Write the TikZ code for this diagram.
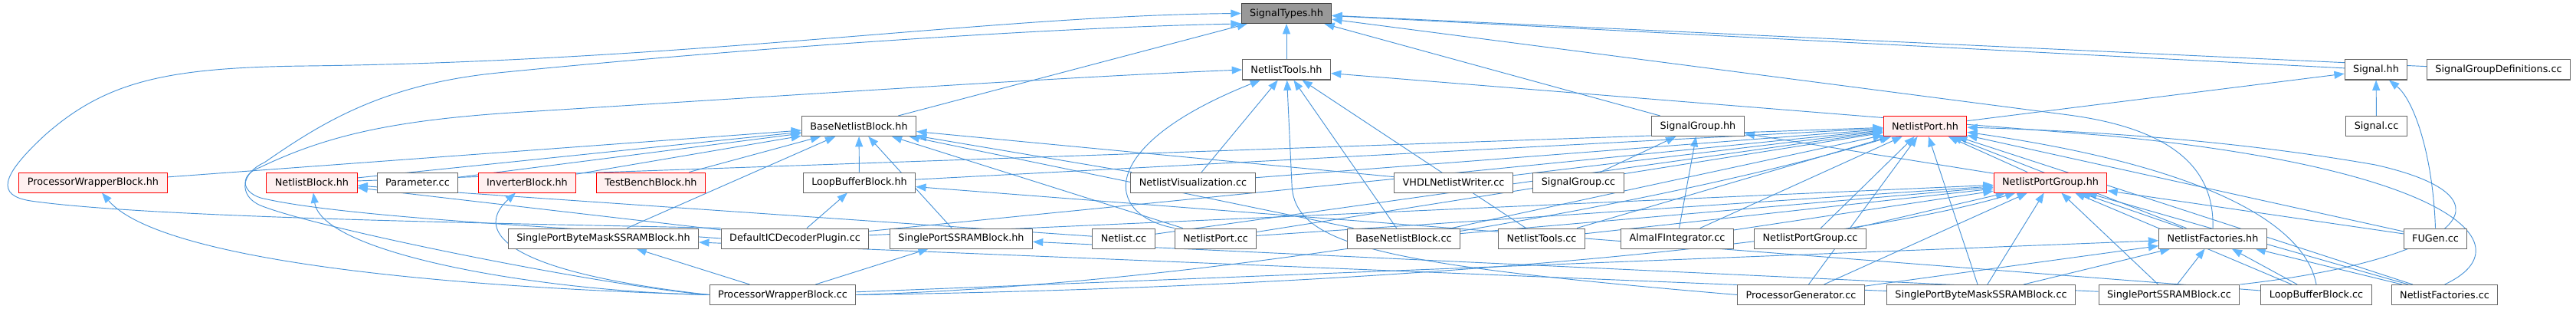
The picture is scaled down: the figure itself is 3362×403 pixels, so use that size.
\documentclass[tikz,border=0pt]{standalone}
\usepackage{fontspec}
\usepackage{xcolor}
\usepackage{tikz}
\usetikzlibrary{arrows.meta}
\newfontfamily\dejavu{DejaVu Sans}
\definecolor{depblue}{HTML}{4A94D8}
\definecolor{tipblue}{HTML}{63B8FF}
\definecolor{boxgray}{HTML}{666666}
\definecolor{rootgray}{HTML}{999999}
\definecolor{redfill}{HTML}{FFF0F0}
\pgfdeclarelayer{bg}
\pgfsetlayers{bg,main}
\begin{document}
\begin{tikzpicture}[x=0.75pt,y=0.75pt,
          box/.style={draw=boxgray,fill=white,line width=0.75pt,minimum height=19.5pt,inner xsep=8.2pt,inner ysep=0pt,font=\dejavu\fontsize{9.6}{11}\selectfont},
          trunc/.style={box,draw=red,fill=redfill},
          root/.style={box,draw=black!75,fill=rootgray},
          dep/.style={draw=depblue,line width=0.7pt,-{Triangle[length=10pt,width=7.5pt,color=tipblue]}}]
          \useasboundingbox (0,0) rectangle (3362,-403);
          \node[root](st) at (1679,-17.5){SignalTypes.hh};
          \node[box](nth) at (1679,-91){NetlistTools.hh};
          \node[box](sh) at (3101,-91){Signal.hh};
          \node[box](sgd) at (3261,-91){SignalGroupDefinitions.cc};
          \node[box](bnbh) at (1121,-164.5){BaseNetlistBlock.hh};
          \node[box](sgh) at (2216,-164.5){SignalGroup.hh};
          \node[trunc](nph) at (2512.5,-164.5){NetlistPort.hh};
          \node[box](scc) at (3101.5,-164.5){Signal.cc};
          \node[trunc](pwbh) at (121.5,-238){ProcessorWrapperBlock.hh};
          \node[trunc](nbh) at (407,-238){NetlistBlock.hh};
          \node[box](param) at (545,-238){Parameter.cc};
          \node[trunc](invbh) at (688,-238){InverterBlock.hh};
          \node[trunc](tbbh) at (849.5,-238){TestBenchBlock.hh};
          \node[box](lbbh) at (1121.5,-238){LoopBufferBlock.hh};
          \node[box](nvis) at (1557,-238){NetlistVisualization.cc};
          \node[box](vhdl) at (1897,-238){VHDLNetlistWriter.cc};
          \node[box](sgcc) at (2060,-238){SignalGroup.cc};
          \node[trunc](npgh) at (2676,-238){NetlistPortGroup.hh};
          \node[box](spbmh) at (787.5,-311){SinglePortByteMaskSSRAMBlock.hh};
          \node[box](dicd) at (1037.5,-311){DefaultICDecoderPlugin.cc};
          \node[box](spsh) at (1254.5,-311){SinglePortSSRAMBlock.hh};
          \node[box](ncc) at (1466.5,-311){Netlist.cc};
          \node[box](npcc) at (1586.5,-311){NetlistPort.cc};
          \node[box](bnbcc) at (1832,-311){BaseNetlistBlock.cc};
          \node[box](ntcc) at (2012,-311){NetlistTools.cc};
          \node[box](alma) at (2189,-311){AlmaIFIntegrator.cc};
          \node[box](npgcc) at (2362.5,-311){NetlistPortGroup.cc};
          \node[box](nfh) at (2888,-311){NetlistFactories.hh};
          \node[box](fugen) at (3178.5,-311){FUGen.cc};
          \node[box](pwbcc) at (1021.5,-384.5){ProcessorWrapperBlock.cc};
          \node[box](pgcc) at (2350.5,-384.5){ProcessorGenerator.cc};
          \node[box](spbmcc) at (2585.5,-384.5){SinglePortByteMaskSSRAMBlock.cc};
          \node[box](spscc) at (2831,-384.5){SinglePortSSRAMBlock.cc};
          \node[box](lbbcc) at (3023,-384.5){LoopBufferBlock.cc};
          \node[box](nfcc) at (3190.5,-384.5){NetlistFactories.cc};
          \begin{pgfonlayer}{bg}
          \draw[dep](nth)--(st); \draw[dep](bnbh)--(st); \draw[dep](sgh)--(st);
          \draw[dep](sh)--(st); \draw[dep](sgd)--(st);
          \draw[dep](nfh.north) .. controls (2890,-230) and (2850,-170) .. (2700,-150)--(st);
          \draw[dep](dicd.north west) .. controls (700,-292) and (200,-285) .. (40,-262) .. controls (-5,-255) and (0,-230) .. (60,-175) .. controls (140,-105) and (220,-88) .. (400,-86) .. controls (900,-80) and (1300,-20) .. (st.west);
          \draw[dep](pwbcc.west) .. controls (800,-375) and (420,-300) .. (340,-268) .. controls (310,-255) and (315,-225) .. (345,-212) .. controls (420,-160) and (500,-110) .. (650,-95) .. controls (1000,-60) and (1400,-35) .. (st.south west);
          \draw[dep](dicd.west) .. controls (800,-300) and (450,-285) .. (340,-258) .. controls (315,-250) and (312,-228) .. (340,-218) .. controls (430,-175) and (520,-155) .. (700,-145) .. controls (1100,-120) and (1400,-100) .. (nth.west);
          \draw[dep](nvis)--(nth); \draw[dep](bnbcc)--(nth); \draw[dep](ntcc)--(nth);
          \draw[dep](npcc.north west) .. controls (1440,-280) and (1430,-190) .. (nth);
          \draw[dep](pgcc.west) .. controls (1800,-345) and (1688,-320) .. (1686,-240)--(nth);
          \draw[dep](nfcc.north) .. controls (3300,-320) and (3200,-220) .. (2750,-177)--(nth);
          \draw[dep](nph)--(sh); \draw[dep](scc)--(sh);
          \draw[dep](fugen.north) .. controls (3175,-200) and (3150,-130) .. (sh);
          \draw[dep](npgh)--(sgh); \draw[dep](sgcc)--(sgh); \draw[dep](alma)--(sgh);
          \draw[dep](pwbh)--(bnbh); \draw[dep](nbh)--(bnbh); \draw[dep](param)--(bnbh);
          \draw[dep](invbh)--(bnbh); \draw[dep](tbbh)--(bnbh); \draw[dep](spbmh)--(bnbh);
          \draw[dep](lbbh)--(bnbh); \draw[dep](spsh)--(bnbh); \draw[dep](vhdl)--(bnbh);
          \draw[dep](nvis)--(bnbh); \draw[dep](bnbcc)--(bnbh); \draw[dep](npcc)--(bnbh);
          \draw[dep](dicd)--(lbbh); \draw[dep](lbbcc)--(lbbh);
          \draw[dep](ncc)--(nbh); \draw[dep](dicd)--(nbh);
          \draw[dep](pwbcc.west) .. controls (700,-380) and (420,-330) .. (nbh);
          \draw[dep](pwbcc.west) .. controls (500,-372) and (200,-330) .. (pwbh);
          \draw[dep](pwbcc.west) .. controls (620,-350) and (630,-290) .. (invbh);
          \draw[dep](pwbcc)--(spbmh); \draw[dep](spbmcc)--(spbmh);
          \draw[dep](pwbcc)--(spsh); \draw[dep](spscc)--(spsh);
          \draw[dep](nbh)--(nph); \draw[dep](lbbh)--(nph); \draw[dep](nvis)--(nph);
          \draw[dep](vhdl)--(nph); \draw[dep](npgh)--(nph); \draw[dep](npcc)--(nph);
          \draw[dep](bnbcc)--(nph); \draw[dep](ntcc)--(nph); \draw[dep](alma)--(nph);
          \draw[dep](ncc)--(nph); \draw[dep](npgcc)--(nph); \draw[dep](pgcc)--(nph);
          \draw[dep](spbmcc)--(nph); \draw[dep](nfcc)--(nph); \draw[dep](nfh)--(nph);
          \draw[dep](fugen)--(nph); \draw[dep](dicd)--(nph);
          \draw[dep](pwbcc.east) .. controls (1600,-370) and (2200,-260) .. (nph);
          \draw[dep](spscc.north east) .. controls (3200,-340) and (3300,-260) .. (3100,-215) .. controls (2900,-180) and (2700,-170) .. (nph);
          \draw[dep](lbbcc.north) .. controls (3010,-300) and (2900,-220) .. (nph);
          \draw[dep](npcc)--(npgh); \draw[dep](bnbcc)--(npgh); \draw[dep](ntcc)--(npgh);
          \draw[dep](alma)--(npgh); \draw[dep](npgcc)--(npgh); \draw[dep](pgcc)--(npgh);
          \draw[dep](spbmcc)--(npgh); \draw[dep](spscc)--(npgh); \draw[dep](lbbcc)--(npgh);
          \draw[dep](nfcc)--(npgh); \draw[dep](nfh)--(npgh); \draw[dep](fugen)--(npgh);
          \draw[dep](pwbcc.east) .. controls (1800,-375) and (2400,-320) .. (npgh);
          \draw[dep](dicd)--(npgh);
          \draw[dep](pwbcc)--(nfh); \draw[dep](pgcc)--(nfh); \draw[dep](spbmcc)--(nfh);
          \draw[dep](spscc)--(nfh); \draw[dep](lbbcc)--(nfh); \draw[dep](nfcc)--(nfh);
          \end{pgfonlayer}
        \end{tikzpicture}
\end{document}
